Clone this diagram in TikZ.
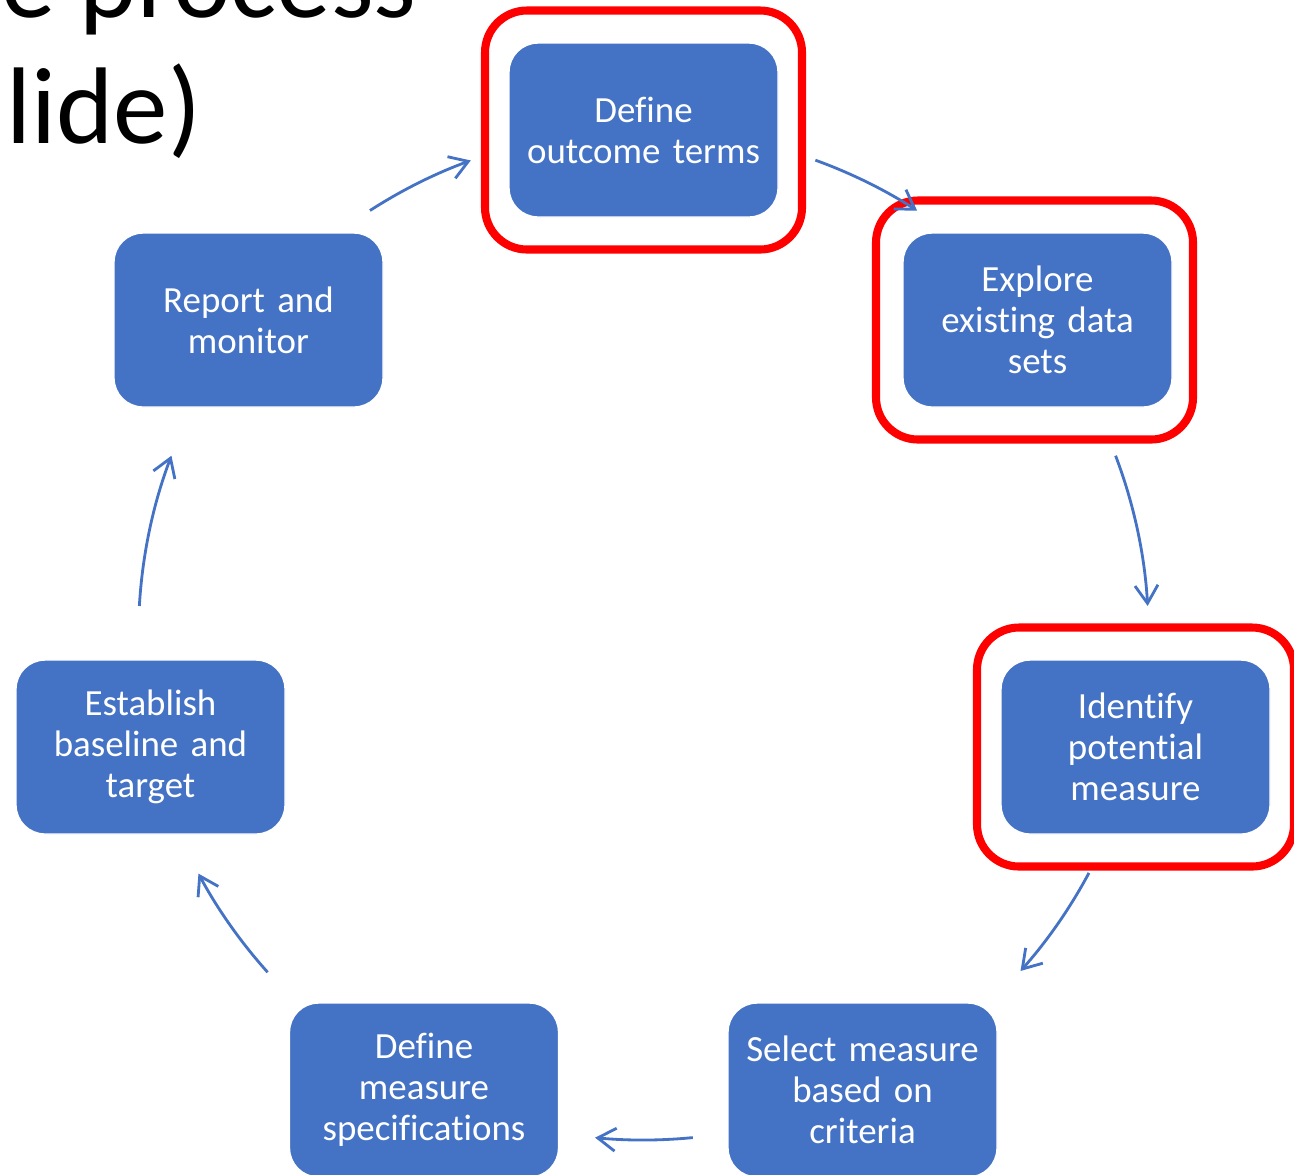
\documentclass[tikz,border=0pt]{standalone}
\usepackage{fontspec}
\setmainfont{Carlito}[Ligatures=NoCommon]
\usetikzlibrary{positioning, calc, arrows.meta}
\definecolor{officeblue}{HTML}{4472C4}
\definecolor{markred}{HTML}{FF0000}

\begin{document}
\begin{tikzpicture}[
    auto,
    block/.style={rectangle, draw=white, fill=officeblue, text=white, text width=2.6cm, text centered, minimum width=2.69cm, minimum height=1.74cm, inner sep=0pt, rounded corners=0.29cm, font=\fontsize{10.5}{11.7}\selectfont},
    hilite/.style={rectangle, draw=markred, line width=2.3pt, minimum width=3.17cm, minimum height=2.39cm, rounded corners=0.42cm},
    line/.style={draw=officeblue, line width=0.8pt, -{Straight Barb[length=1.8mm, width=2.3mm]}},
    title/.style={inner sep=0pt, font=\fontsize{31}{36}\selectfont}
    ]
    \useasboundingbox (0,0) rectangle (12.94,-11.74);
    \clip (0,0) rectangle (12.94,-11.74);

    % title, cut off by the slide edge
    \node[title, anchor=base east] (title1) at (4.17,-0.17) {e process};
    \node[title, anchor=base west] (title2) at (0.06,-1.43) {lide)};

    % steps of the cycle
    \node[block] (outcome) at (6.435,-1.30) {Define\\outcome terms};
    \node[block] (explore) at (10.375,-3.20) {Explore\\existing data\\sets};
    \node[block] (identify) at (11.355,-7.47) {Identify\\potential\\measure};
    \node[block] (select) at (8.625,-10.90) {Select measure\\based on\\criteria};
    \node[block] (specs) at (4.24,-10.90) {Define\\measure\\specifications};
    \node[block] (baseline) at (1.505,-7.47) {Establish\\baseline and\\target};
    \node[block] (report) at (2.485,-3.20) {Report and\\monitor};

    % red highlights
    \node[hilite] (markoutcome) at (outcome) {};
    \node[hilite] (markexplore) at ($(explore)+(-0.03,0)$) {};
    \node[hilite] (markidentify) at (identify) {};

    % arrows on the cycle circle
    \coordinate (hub) at (6.435,-6.35);
    \foreach \s/\e in {70.1/57.2, 20.8/3.3, -28.1/-41.7, -84.4/-95.5, -138.1/-151.8, 176.7/159.2, 122.8/110}
      \draw[line] ($(hub)+(\s:5.05)$) arc[start angle=\s, end angle=\e, radius=5.05];

\end{tikzpicture}
\end{document}
